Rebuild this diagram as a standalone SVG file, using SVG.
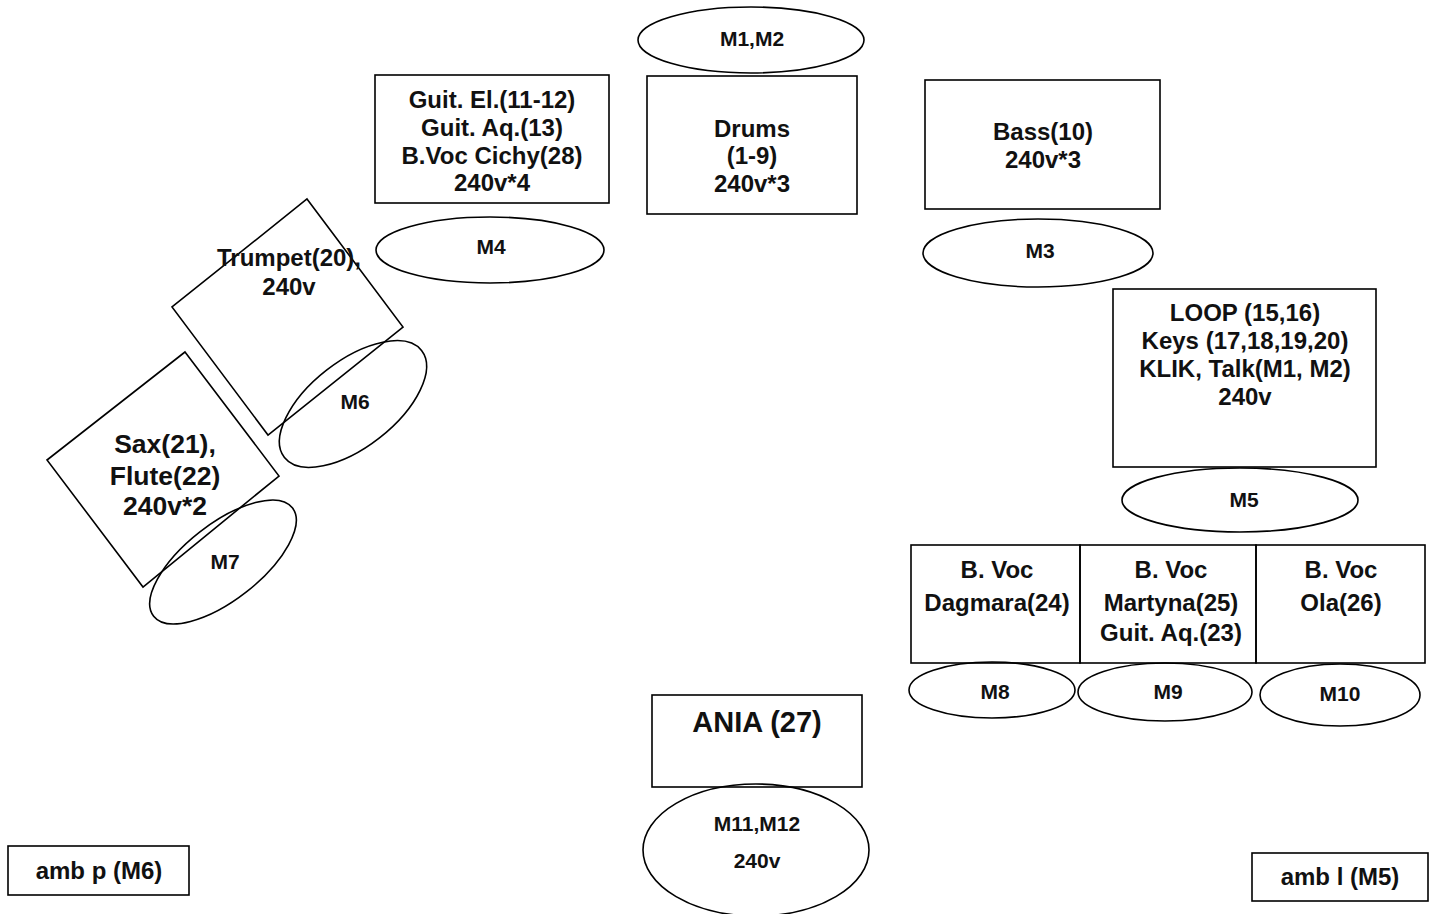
<svg xmlns="http://www.w3.org/2000/svg" width="1436" height="914" viewBox="0 0 1436 914">
<style>
.s{fill:none;stroke:#000;stroke-width:1.6}
text{font-family:"Liberation Sans",Arial,sans-serif;font-weight:bold;fill:#111;text-anchor:middle}
.b{font-size:24px}
.m{font-size:21px}
.x{font-size:26.5px}
.a{font-size:29px}
</style>
<rect width="1436" height="914" fill="#fff"/>
<g id="drums">
<rect class="s" x="647" y="76" width="210" height="138"/>
<text class="b" x="752" y="137">Drums</text>
<text class="b" x="752" y="164">(1-9)</text>
<text class="b" x="752" y="192">240v*3</text>
</g>
<g id="m1m2"><ellipse class="s" cx="751" cy="40" rx="113" ry="33"/><text class="m" x="752" y="46">M1,M2</text></g>
<g id="guitar">
<rect class="s" x="375" y="75" width="234" height="128"/>
<text class="b" x="492" y="108">Guit. El.(11-12)</text>
<text class="b" x="492" y="136">Guit. Aq.(13)</text>
<text class="b" x="492" y="164">B.Voc Cichy(28)</text>
<text class="b" x="492" y="191">240v*4</text>
</g>
<g id="m4"><ellipse class="s" cx="490" cy="250" rx="114" ry="33"/><text class="m" x="491" y="254">M4</text></g>
<g id="bass">
<rect class="s" x="925" y="80" width="235" height="129"/>
<text class="b" x="1043" y="140">Bass(10)</text>
<text class="b" x="1043" y="168">240v*3</text>
</g>
<g id="m3"><ellipse class="s" cx="1038" cy="253" rx="115" ry="34"/><text class="m" x="1040" y="258">M3</text></g>
<g id="loop">
<rect class="s" x="1113" y="289" width="263" height="178"/>
<text class="b" x="1245" y="321">LOOP (15,16)</text>
<text class="b" x="1245" y="349">Keys (17,18,19,20)</text>
<text class="b" x="1245" y="377">KLIK, Talk(M1, M2)</text>
<text class="b" x="1245" y="405">240v</text>
</g>
<g id="m5"><ellipse class="s" cx="1240" cy="500" rx="118" ry="32"/><text class="m" x="1244" y="507">M5</text></g>
<g id="bvoc1">
<rect class="s" x="911" y="545" width="169" height="118"/>
<text class="b" x="997" y="578">B. Voc</text>
<text class="b" x="997" y="611">Dagmara(24)</text>
</g>
<g id="bvoc2">
<rect class="s" x="1080" y="545" width="176" height="118"/>
<text class="b" x="1171" y="578">B. Voc</text>
<text class="b" x="1171" y="611">Martyna(25)</text>
<text class="b" x="1171" y="641">Guit. Aq.(23)</text>
</g>
<g id="bvoc3">
<rect class="s" x="1256" y="545" width="169" height="118"/>
<text class="b" x="1341" y="578">B. Voc</text>
<text class="b" x="1341" y="611">Ola(26)</text>
</g>
<g id="m8"><ellipse class="s" cx="992" cy="690" rx="83" ry="28"/><text class="m" x="995" y="699">M8</text></g>
<g id="m9"><ellipse class="s" cx="1165" cy="692" rx="87" ry="29"/><text class="m" x="1168" y="699">M9</text></g>
<g id="m10"><ellipse class="s" cx="1340" cy="695" rx="80" ry="31"/><text class="m" x="1340" y="701">M10</text></g>
<g id="ania">
<rect class="s" x="652" y="695" width="210" height="92"/>
<text class="a" x="757" y="732">ANIA (27)</text>
</g>
<g id="m11m12">
<ellipse class="s" cx="756" cy="850" rx="113" ry="66"/>
<text class="m" x="757" y="831">M11,M12</text>
<text class="m" x="757" y="868">240v</text>
</g>
<g id="trumpet">
<polygon class="s" points="307,199 403,327 268,435 172,307"/>
<text class="b" x="289" y="266">Trumpet(20),</text>
<text class="b" x="289" y="295">240v</text>
</g>
<g id="m6"><ellipse class="s" cx="353" cy="404" rx="87" ry="43" transform="rotate(-38 353 404)"/><text class="m" x="355" y="409">M6</text></g>
<g id="sax">
<polygon class="s" points="185,352 279,476 143,587 47,460"/>
<text class="x" x="165" y="453">Sax(21),</text>
<text class="x" x="165" y="485">Flute(22)</text>
<text class="x" x="165" y="515">240v*2</text>
</g>
<g id="m7"><ellipse class="s" cx="223" cy="562" rx="88" ry="38" transform="rotate(-38 223 562)"/><text class="m" x="225" y="569">M7</text></g>
<g id="ambp"><rect class="s" x="8" y="846" width="181" height="49"/><text class="b" x="99" y="879">amb p (M6)</text></g>
<g id="ambl"><rect class="s" x="1252" y="853" width="176" height="48"/><text class="b" x="1340" y="885">amb l (M5)</text></g>
<g id="connectors"></g>
</svg>
